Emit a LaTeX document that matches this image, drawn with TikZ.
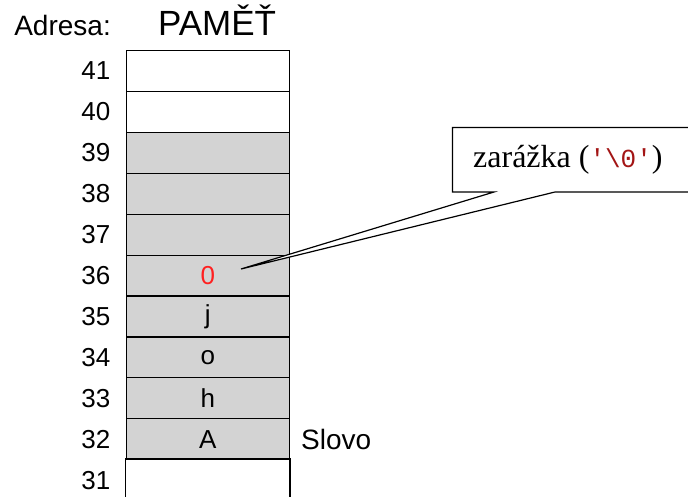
\documentclass[tikz,border=0pt]{standalone}
\usepackage{fontspec}
\setmainfont{Liberation Sans}
\newfontfamily\arialfont{Liberation Sans}
\newfontfamily\timesfont{Liberation Serif}
\newfontfamily\monofont{Liberation Mono}
\definecolor{cellgray}{HTML}{D3D3D3}
\definecolor{codered}{HTML}{A31515}
\definecolor{zerored}{HTML}{FF2020}
\begin{document}
\begin{tikzpicture}[x=1pt,y=-1pt,
  cellbox/.style={draw=black,line width=1.2pt,minimum width=163.3pt,minimum height=40.9pt,inner sep=0pt,anchor=north west,font=\arialfont\fontsize{26}{28}\selectfont},
  full/.style={cellbox,fill=cellgray},
  addr/.style={anchor=east,inner sep=0pt,font=\arialfont\fontsize{26}{28}\selectfont},
  hdr/.style={anchor=base east,inner sep=0pt,font=\arialfont\fontsize{28}{30}\selectfont}]
\useasboundingbox (0,0) rectangle (688,497);
\clip (0,0) rectangle (688,497);
% header
\node[hdr] (adresa) at (111,36) {Adresa:};
\node[anchor=base,inner sep=0pt,font=\arialfont\fontsize{35}{37}\selectfont] (pamet) at (217,36) {PAMĚŤ};
% cells
\node[cellbox] (c41) at (125.5,50) {};
\node[cellbox] (c40) at (125.5,90.9) {};
\node[full] (c39) at (125.5,131.8) {};
\node[full] (c38) at (125.5,172.7) {};
\node[full] (c37) at (125.5,213.6) {};
\node[full,text=zerored] (c36) at (125.5,254.5) {\arialfont 0};
\node[full] (c35) at (125.5,295.4) {j};
\node[full] (c34) at (125.5,336.3) {o};
\node[full] (c33) at (125.5,377.2) {h};
\node[full] (c32) at (125.5,418.1) {A};
\node[cellbox,draw=none] (c31) at (125.5,459) {};
\draw[line width=1.2pt] (c31.south west) ++(0,20) -- (c31.north west) -- (c31.north east) -- ++(0,60);
% addresses
\foreach \n in {41,40,39,38,37,36,35,34,33,32,31}{
  \node[addr] (a\n) at ([xshift=-15pt]c\n.west) {\n};
}
\node[anchor=west,inner sep=0pt,font=\arialfont\fontsize{28}{30}\selectfont] (slovo) at ([xshift=11pt]c32.east) {Slovo};
% callout
\coordinate (tip) at (241,269);
\draw[line width=1.2pt,fill=white] (452.5,127.5) -- (700,127.5) -- (700,192) -- (555,192) -- (tip) -- (494,192) -- (452.5,192) -- cycle;
\node[anchor=base west,inner sep=0pt,font=\timesfont\fontsize{32}{34}\selectfont] (zar) at (473,168)
  {zarážka ({\monofont\fontsize{26}{28}\selectfont\color{codered}'\textbackslash0'})};
\end{tikzpicture}
\end{document}
